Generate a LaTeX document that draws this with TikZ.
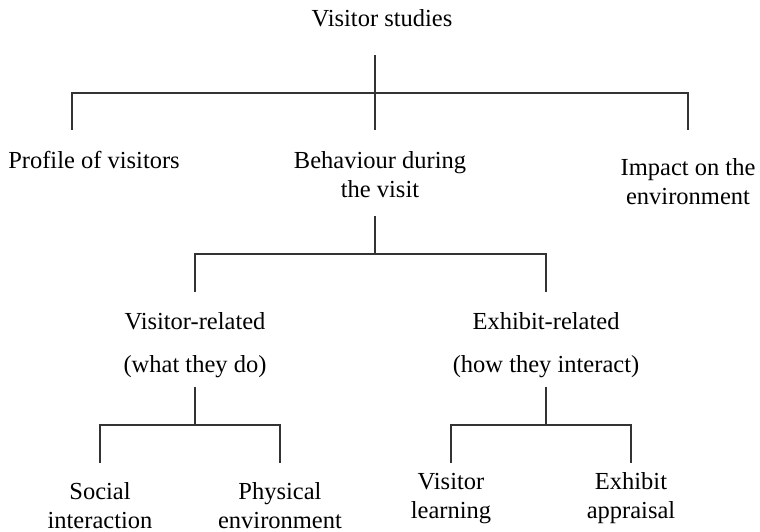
\documentclass[tikz,border=0pt]{standalone}
\usepackage{fontspec}
\setmainfont{Liberation Serif}
\usetikzlibrary{positioning}
\definecolor{TreeLine}{HTML}{333333}

\begin{document}
\begin{tikzpicture}[x=1pt, y=-1pt,
                    link/.style = { draw=TreeLine, line width=1.2pt },
                    txt/.style = { inner sep=0pt, anchor=base, align=center,
                                   font=\fontsize{24.5}{28.5}\selectfont }]
  \useasboundingbox (0,0) rectangle (760,532);

  % labels (base = baseline of the last line)
  \node[txt] (vs)   at(382, 27)  {Visitor studies};
  \node[txt] (pov)  at(94, 168)  {Profile of visitors};
  \node[txt] (bdv)  at(380, 197) {Behaviour during\\the visit};
  \node[txt] (iote) at(688, 204) {Impact on the\\environment};
  \node[txt] (vr)   at(195, 372) {Visitor-related\\[14pt](what they do)};
  \node[txt] (er)   at(546, 372) {Exhibit-related\\[14pt](how they interact)};
  \node[txt] (si)   at(100, 528) {Social\\interaction};
  \node[txt] (pe)   at(280, 528) {Physical\\environment};
  \node[txt] (vl)   at(451, 518) {Visitor\\learning};
  \node[txt] (ea)   at(631, 518) {Exhibit\\appraisal};

  % stubs and junctions
  \coordinate (vs-b)   at(375, 55);
  \coordinate (j1)     at(375, 93);
  \coordinate (pov-t)  at(72, 130);
  \coordinate (bdv-t)  at(375, 130);
  \coordinate (iote-t) at(688, 130);
  \coordinate (bdv-b)  at(375, 216);
  \coordinate (j2)     at(375, 254);
  \coordinate (vr-t)   at(195, 292);
  \coordinate (er-t)   at(546, 292);
  \coordinate (vr-b)   at(195, 387);
  \coordinate (j3)     at(195, 425);
  \coordinate (er-b)   at(546, 387);
  \coordinate (j4)     at(546, 425);
  \coordinate (si-t)   at(100, 463);
  \coordinate (pe-t)   at(280, 463);
  \coordinate (vl-t)   at(451, 463);
  \coordinate (ea-t)   at(631, 463);

  \draw [link] (vs-b) -- (bdv-t);
  \draw [link] (pov-t) |- (j1) -| (iote-t);

  \draw [link] (bdv-b) -- (j2);
  \draw [link] (vr-t) |- (j2) -| (er-t);

  \draw [link] (vr-b) -- (j3);
  \draw [link] (si-t) |- (j3) -| (pe-t);
  \draw [link] (er-b) -- (j4);
  \draw [link] (vl-t) |- (j4) -| (ea-t);
\end{tikzpicture}
\end{document}
